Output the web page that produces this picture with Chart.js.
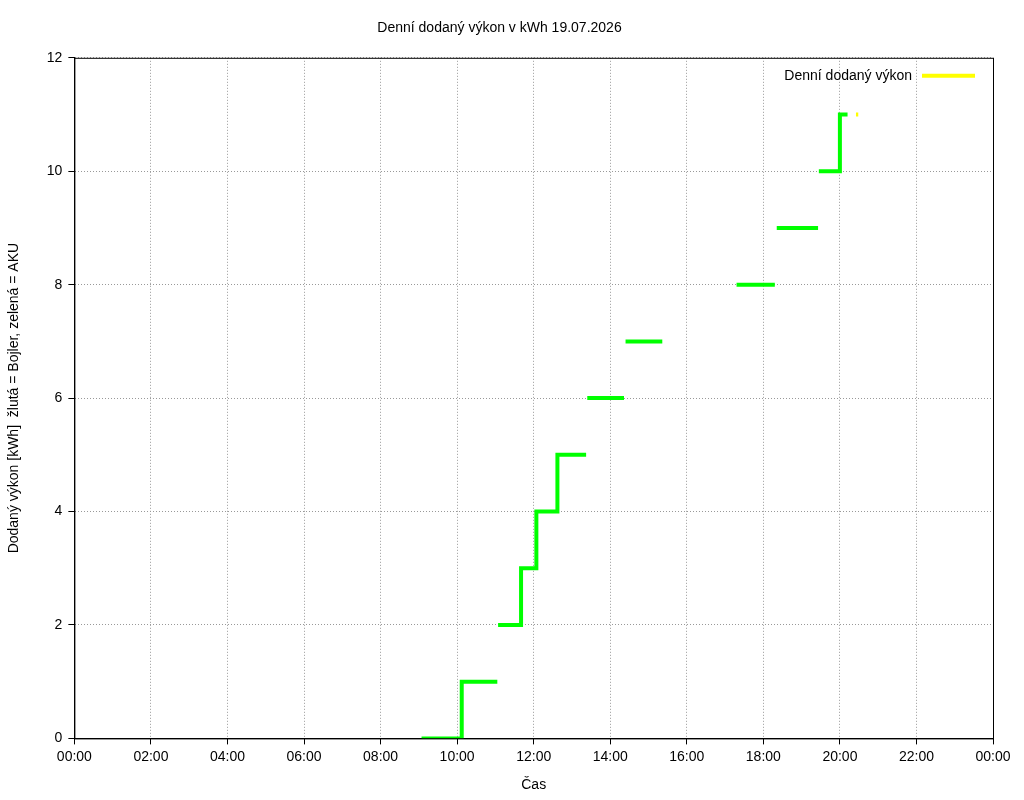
<!DOCTYPE html>
<html>
<head>
<meta charset="utf-8">
<script src="https://cdn.jsdelivr.net/npm/chart.js@4"></script>
<style>body{margin:0;background:#fff}</style>
</head>
<body>
<canvas id="c" width="1024" height="800"></canvas>
<script>
"use strict";
// casy v hodinach, null = mezera v datech
const akuHours = [9.07,10.12,10.12,11.05,null,11.07,11.67,11.67,12.07,12.07,12.62,12.62,13.37,null,
                  13.4,14.36,null,14.4,15.36,null,17.3,18.3,null,18.35,19.43,null,19.45,20.0,20.0,20.2];
const akuKwh   = [0,0,1,1,null,2,2,3,3,4,4,5,5,null,
                  6,6,null,7,7,null,8,8,null,9,9,null,10,10,11,11];
const bojlerHours = [20.42,20.48];
const bojlerKwh   = [11,11];
const xTicks = [0,2,4,6,8,10,12,14,16,18,20,22,24];
const legendText = "Denní dodaný výkon";

function toPts(xs, ys){
    let out = [];
    for (let i = 0; i < xs.length; i++) {
        out.push(xs[i] === null ? {x: NaN, y: null} : {x: xs[i], y: ys[i]});
    }
    return out;
}

Chart.defaults.font.family = "'Liberation Sans', Arial, sans-serif";
Chart.defaults.font.size = 14;
Chart.defaults.color = "#000";

const dotted = {color: "#999", drawTicks: true, tickColor: "#000", tickLength: 6};

new Chart(document.getElementById("c"), {
    type: "line",
    data: {
        datasets: [{
            label: "AKU",
            data: toPts(akuHours, akuKwh),
            borderColor: "#00ff00",
            borderWidth: 4,
            pointRadius: 0,
            spanGaps: false
        }, {
            label: legendText,
            data: toPts(bojlerHours, bojlerKwh),
            borderColor: "#ffff00",
            borderWidth: 4,
            pointRadius: 0
        }]
    },
    options: {
        responsive: false,
        animation: false,
        layout: {padding: {left: 6, right: 31, top: 0, bottom: 0}},
        plugins: {
            title: {display: true, text: "Denní dodaný výkon v kWh 19.07.2026",
                    font: {size: 14, weight: "normal"}, padding: {top: 20, bottom: 21}},
            legend: {display: false},
            tooltip: {enabled: false}
        },
        scales: {
            x: {
                type: "linear", min: 0, max: 24,
                afterBuildTicks: ax => { ax.ticks = xTicks.map(v => ({value: v})); },
                ticks: {callback: v => String(v % 24 === 0 && v > 0 ? 0 : v).padStart(2, "0") + ":00",
                        maxRotation: 0, padding: 4},
                grid: dotted,
                border: {color: "#000", width: 1, dash: [1, 2]},
                title: {display: true, text: "Čas", padding: {top: 8, bottom: 6}}
            },
            y: {
                min: 0, max: 12,
                ticks: {stepSize: 2, padding: 6},
                grid: dotted,
                border: {color: "#000", width: 1, dash: [1, 2]},
                title: {display: true, text: "Dodaný výkon [kWh]  žlutá = Bojler, zelená = AKU",
                        padding: {top: 0, bottom: 18}}
            }
        }
    },
    plugins: [{
        id: "frame",
        afterDraw(chart){
            const a = chart.chartArea, ctx = chart.ctx;
            ctx.save();
            ctx.strokeStyle = "#000";
            ctx.lineWidth = 1;
            ctx.setLineDash([]);
            ctx.strokeRect(a.left + 0.5, a.top + 0.5, a.right - a.left, a.bottom - a.top);
            // legenda ve stylu gnuplotu
            const y = a.top + 18;
            ctx.font = "14px 'Liberation Sans', Arial, sans-serif";
            ctx.fillStyle = "#000";
            ctx.textAlign = "right";
            ctx.textBaseline = "middle";
            ctx.fillText(legendText, a.right - 81, y);
            ctx.strokeStyle = "#ffff00";
            ctx.lineWidth = 4;
            ctx.beginPath();
            ctx.moveTo(a.right - 71, y);
            ctx.lineTo(a.right - 18, y);
            ctx.stroke();
            ctx.restore();
        }
    }]
});
</script>
</body>
</html>
